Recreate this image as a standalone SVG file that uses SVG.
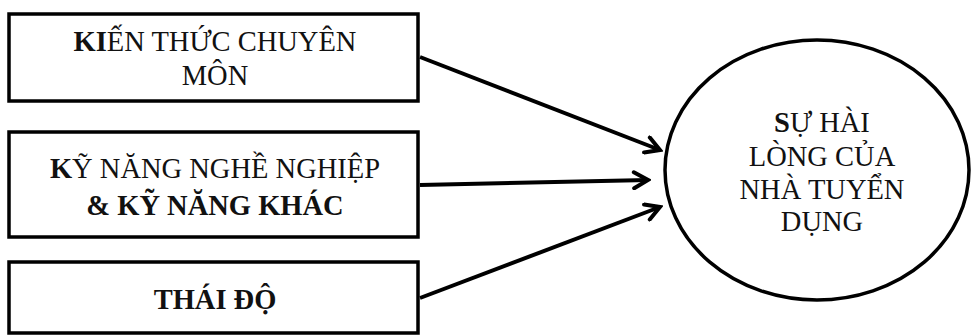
<svg xmlns="http://www.w3.org/2000/svg" width="971" height="335" viewBox="0 0 971 335">
<defs>
<style>
.box{fill:#fff;stroke:#000;stroke-width:3.5}
.t{font-family:"Liberation Serif","Times New Roman",serif;font-size:28.5px;fill:#111;text-anchor:middle}
.b{font-weight:bold}
.conn{stroke:#000;stroke-width:4;fill:none}
</style>
<marker id="arr" viewBox="0 0 20 20" refX="17" refY="10" markerWidth="20" markerHeight="20" markerUnits="userSpaceOnUse" orient="auto">
<path d="M3,2 L17,10 L3,18" fill="none" stroke="#000" stroke-width="4" stroke-linecap="round"/>
</marker>
</defs>
<rect width="971" height="335" fill="#fff"/>
<g id="node-kienthuc">
<rect class="box" x="9" y="14" width="409" height="87"/>
<text class="t" x="215" y="51"><tspan class="b">KI</tspan>ẾN THỨC CHUYÊN</text>
<text class="t" x="215" y="85">MÔN</text>
</g>
<g id="node-kynang">
<rect class="box" x="9" y="132" width="409" height="105"/>
<text class="t" x="215" y="178"><tspan class="b">K</tspan>Ỹ NĂNG NGHỀ NGHIỆP</text>
<text class="t b" x="215" y="215">&amp; KỸ NĂNG KHÁC</text>
</g>
<g id="node-thaido">
<rect class="box" x="9" y="262" width="409" height="71"/>
<text class="t b" x="215" y="309">THÁI ĐỘ</text>
</g>
<g id="node-hailong">
<ellipse cx="817" cy="170" rx="152" ry="130" fill="#fff" stroke="#000" stroke-width="3.5"/>
<text class="t" x="822" y="132"><tspan class="b">S</tspan>Ự HÀI</text>
<text class="t" x="822" y="166">LÒNG CỦA</text>
<text class="t" x="822" y="199">NHÀ TUYỂN</text>
<text class="t" x="822" y="231">DỤNG</text>
</g>
<g id="connectors">
<line class="conn" x1="420" y1="57" x2="660" y2="150" marker-end="url(#arr)"/>
<line class="conn" x1="420" y1="185" x2="648" y2="180" marker-end="url(#arr)"/>
<line class="conn" x1="420" y1="298" x2="660" y2="207" marker-end="url(#arr)"/>
</g>
</svg>
